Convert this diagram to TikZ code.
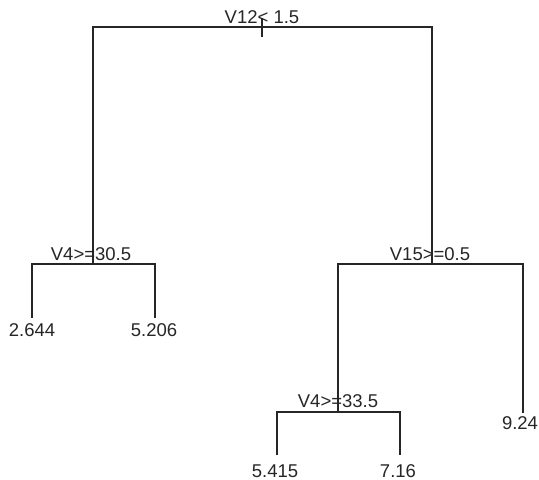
\documentclass[tikz,border=0pt]{standalone}
\usepackage{fontspec}
\setmainfont{Liberation Sans}
\begin{document}
\begin{tikzpicture}[x=1pt,y=-1pt,
  branch/.style={line width=1.3pt, draw=black!85},
  splitlabel/.style={anchor=base, inner sep=0pt, font=\fontsize{18.5}{22}\selectfont, text=black!85},
  leaflabel/.style={anchor=base, inner sep=0pt, font=\fontsize{18.5}{22}\selectfont, text=black!85}]
  \useasboundingbox (0,0) rectangle (539,480);

  % split points
  \coordinate (r) at (262,27);
  \coordinate (a) at (93,264);
  \coordinate (b) at (432,264);
  \coordinate (c) at (338,412);
  \coordinate (rtop) at (262,18);
  \coordinate (rbot) at (262,37);

  % leaf line ends
  \coordinate (l1) at (32,318);
  \coordinate (l2) at (155,318);
  \coordinate (l3) at (277,455);
  \coordinate (l4) at (400,455);
  \coordinate (l5) at (523,413);

  % tree branches
  \draw[branch] (rtop) -- (rbot);
  \draw[branch] (a) |- (r) -| (b);
  \draw[branch] (l1) |- (a) -| (l2);
  \draw[branch] (c) |- (b) -| (l5);
  \draw[branch] (l3) |- (c) -| (l4);

  % split labels
  \node[splitlabel] (tr) at (262,23) {V12< 1.5};
  \node[splitlabel] (ta) at (91,260) {V4>=30.5};
  \node[splitlabel] (tb) at (430,260) {V15>=0.5};
  \node[splitlabel] (tc) at (338,407) {V4>=33.5};

  % leaf values
  \node[leaflabel] (v1) at (32,336) {2.644};
  \node[leaflabel] (v2) at (154,336) {5.206};
  \node[leaflabel] (v3) at (275,477) {5.415};
  \node[leaflabel] (v4) at (398,477) {7.16};
  \node[leaflabel] (v5) at (520,429) {9.24};
\end{tikzpicture}
\end{document}
